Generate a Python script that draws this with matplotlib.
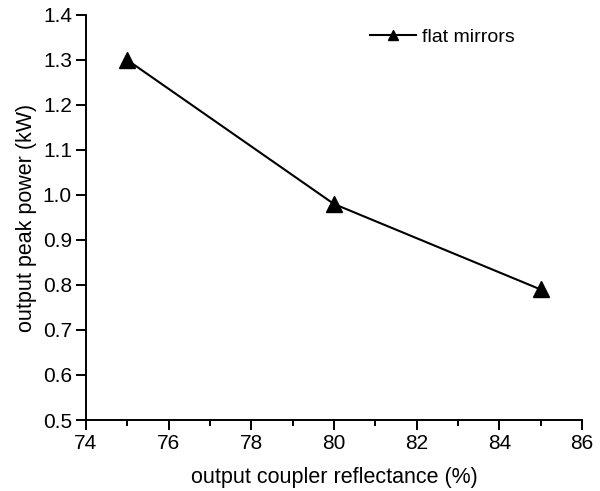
import numpy as np
import matplotlib as mpl
mpl.use('Agg')
import matplotlib.pyplot as plt
from matplotlib.ticker import MultipleLocator

plt.rcParams['font.family'] = ['Liberation Sans', 'DejaVu Sans']

reflectance = [75, 80, 85]
peak_power = [1.30, 0.98, 0.79]

fig = plt.figure(figsize=(6.0, 4.91), dpi=100)
ax = fig.add_axes([0.143, 0.1446, 0.827, 0.825])

ax.plot(reflectance, peak_power, color='black', lw=1.5, marker='^',
        markersize=11, label='flat mirrors')

ax.set_xlim(74, 86)
ax.set_ylim(0.5, 1.4)
ax.xaxis.set_major_locator(MultipleLocator(2))
ax.xaxis.set_minor_locator(MultipleLocator(1))
ax.yaxis.set_major_locator(MultipleLocator(0.1))
ax.yaxis.set_major_formatter(mpl.ticker.FormatStrFormatter('%.1f'))

for side in ('top', 'right'):
    ax.spines[side].set_visible(False)
for side in ('left', 'bottom'):
    ax.spines[side].set_linewidth(1.4)

ax.tick_params(which='major', direction='out', length=7, width=1.4,
               labelsize=15, pad=3)
ax.tick_params(which='minor', direction='out', length=4, width=1.4)

ax.set_xlabel('output coupler reflectance (%)', fontsize=15.5, labelpad=10)
ax.set_ylabel('output peak power (kW)', fontsize=15.5, labelpad=4)

leg = ax.legend(loc='upper right', bbox_to_anchor=(0.9, 1.01), frameon=False,
                fontsize=14, markerscale=0.6, handlelength=2.4, handletextpad=0.3)

fig.savefig('out.png', dpi=100)
